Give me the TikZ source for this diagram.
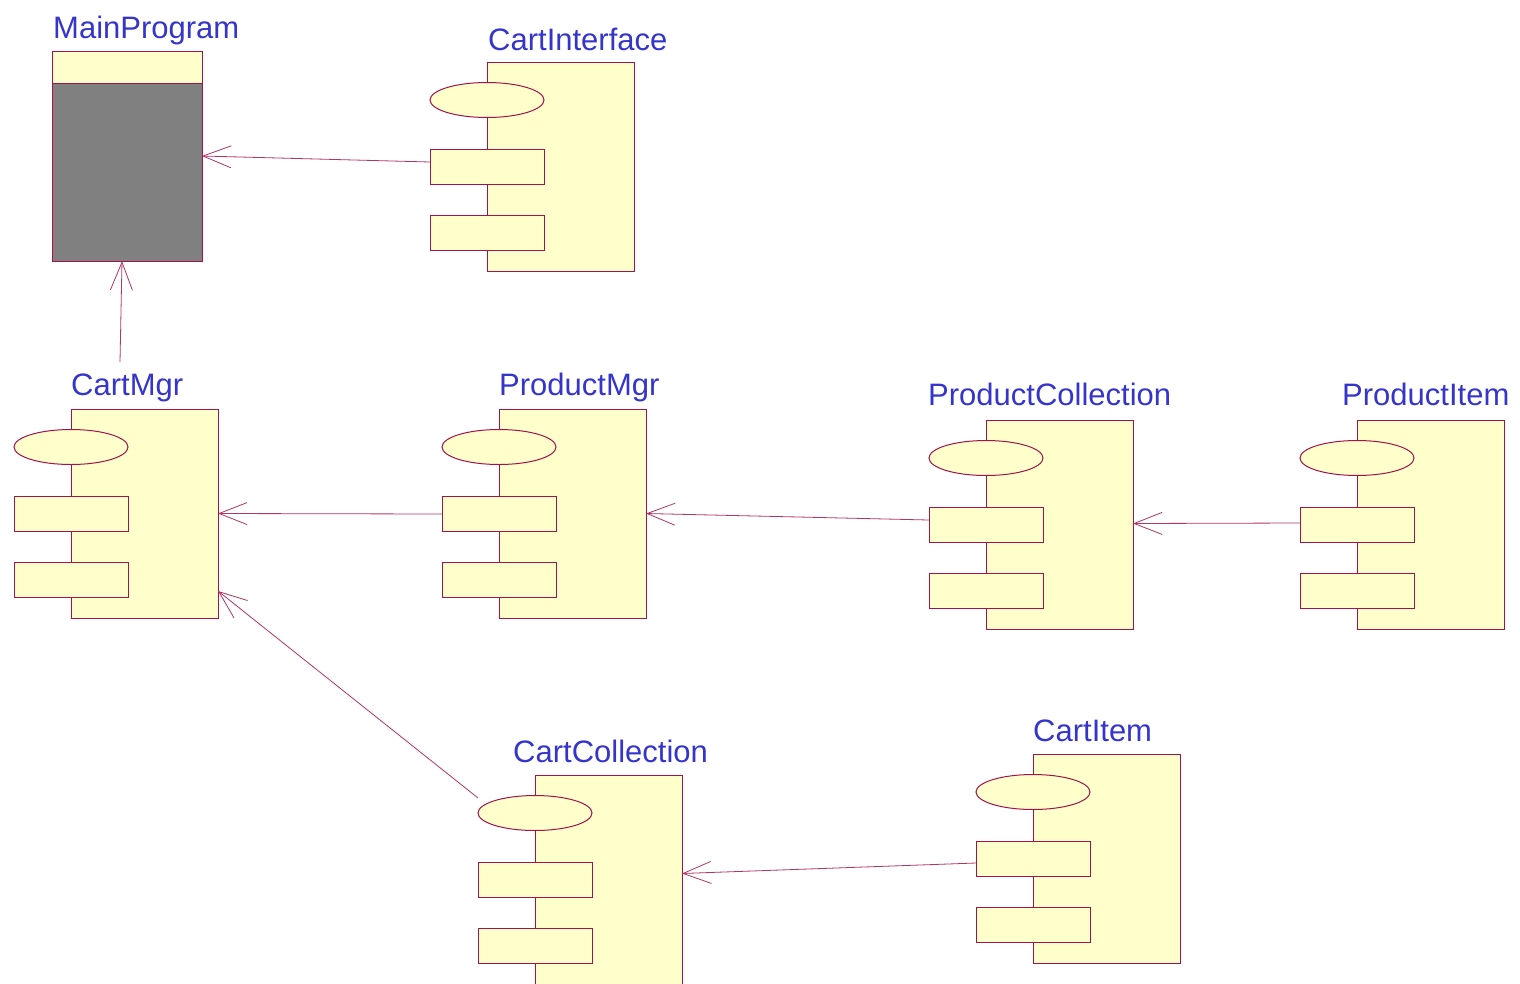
\documentclass[tikz,border=0pt]{standalone}
\usepackage{fontspec}
\setmainfont{Liberation Sans}
\usetikzlibrary{arrows.meta,shapes.geometric,calc}
\definecolor{edgec}{HTML}{A3124A}
\definecolor{lblc}{HTML}{3535CC}
\definecolor{fillc}{HTML}{FFFFCC}
\definecolor{mpgray}{HTML}{808080}
\tikzset{
 body/.style={draw=edgec, fill=fillc, line width=1pt, minimum width=147pt, minimum height=209pt, inner sep=0pt, outer sep=0pt},
 port/.style={draw=edgec, fill=fillc, line width=1pt, minimum width=114pt, minimum height=35pt, inner sep=0pt, outer sep=0pt},
 iface/.style={ellipse, draw=edgec, fill=fillc, line width=1pt, minimum width=114pt, minimum height=35pt, inner sep=0pt, outer sep=0pt},
 lab/.style={text=lblc, font=\fontsize{31}{37}\selectfont, inner sep=0pt, anchor=base west},
 dep/.style={draw=edgec!85, line width=0.8pt, -{Straight Barb[length=28pt,width=22pt]}},
}
\newcommand\umlcomp[3]{%
 \node[body] (#1-b) at ({#2+73.5},{#3+104.5}) {};
 \node[iface] (#1-e) at ({#2},{#3+38}) {};
 \node[port] (#1-r1) at ({#2},{#3+105}) {};
 \node[port] (#1-r2) at ({#2},{#3+171}) {};
}
\begin{document}
\begin{tikzpicture}[x=1pt,y=-1pt]
\path[use as bounding box, clip] (0,0) rectangle (1520,983);
\fill[white] (0,0) rectangle (1520,983);
% MainProgram
\node[draw=edgec, fill=mpgray, line width=1pt, minimum width=150pt, minimum height=210pt, inner sep=0pt, outer sep=0pt] (mp) at (127,156) {};
\node[draw=edgec, fill=fillc, line width=1pt, minimum width=150pt, minimum height=32pt, inner sep=0pt, outer sep=0pt] (mptop) at (127,67) {};
\node[lab] (mp-l) at (53,38) {MainProgram};
% components
\umlcomp{ci}{487}{62}
\node[lab] (ci-l) at (488,50) {CartInterface};
\umlcomp{cm}{71}{409}
\node[lab] (cm-l) at (71,395) {CartMgr};
\umlcomp{pm}{499}{409}
\node[lab] (pm-l) at (499,395) {ProductMgr};
\umlcomp{pc}{986}{420}
\node[lab] (pc-l) at (928,405) {ProductCollection};
\umlcomp{pi}{1357}{420}
\node[lab] (pi-l) at (1342,405) {ProductItem};
\umlcomp{cc}{535}{775}
\node[lab] (cc-l) at (513,762) {CartCollection};
\umlcomp{cit}{1033}{754}
\node[lab] (cit-l) at (1033,741) {CartItem};
% connectors
\coordinate (cmtop) at (120,362);
\draw[dep] ($(ci-r1.west)+(0,-5)$) -- (mp.east);
\draw[dep] (cmtop) -- ($(mp.south)+(-5,0)$);
\draw[dep] (pm-r1.west) -- (cm-b.east);
\draw[dep] ($(pc-r1.west)+(0,-5)$) -- ($(pm-b.east)+(0,0)$);
\draw[dep] ($(pi-r1.west)+(0,-2)$) -- ($(pc-b.east)+(0,-1)$);
\draw[dep] ($(cc-e.west)+(0,-15)$) -- ($(cm-b.south east)+(0,-27)$);
\draw[dep] ($(cit-r1.west)+(0,4)$) -- ($(cc-b.east)+(0,-6)$);
\end{tikzpicture}
\end{document}
